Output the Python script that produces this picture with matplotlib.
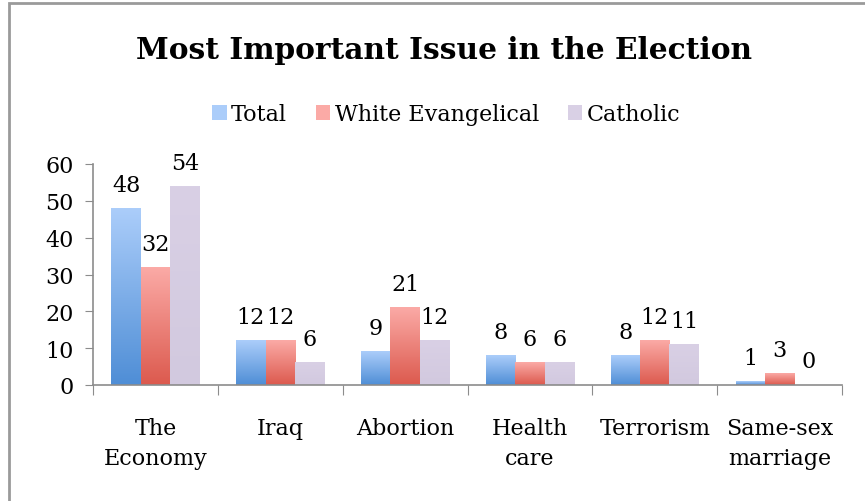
import numpy as np
import matplotlib.pyplot as plt
from matplotlib.colors import LinearSegmentedColormap
from matplotlib.patches import Rectangle

categories = ["The\nEconomy", "Iraq", "Abortion", "Health\ncare", "Terrorism", "Same-sex\nmarriage"]
series_names = ["Total", "White Evangelical", "Catholic"]
total = [48, 12, 9, 8, 8, 1]
evangelical = [32, 12, 21, 6, 12, 3]
catholic = [54, 6, 12, 6, 11, 0]

# top colour, bottom colour for each series
grads = [("#abcdfa", "#4f8ed6"), ("#fbaaa6", "#dc5a4e"), ("#d9d0e5", "#d2c9df")]

plt.rcParams['font.family'] = ['DejaVu Serif']

fig = plt.figure(figsize=(8.65, 5.02), dpi=100)
# outer chart border (only left and top show, the rest is cropped)
fig.patches.append(Rectangle((9 / 865, -0.05), 1.1, 1.05 - 4 / 502,
                             transform=fig.transFigure, fill=False,
                             edgecolor="#9a9a9a", linewidth=2))

ax = fig.add_axes([93 / 865, 1 - 386 / 502, (842 - 93) / 865, (386 - 165) / 502])

bw = 0.235
x = np.arange(len(categories)) + 0.5
data = [total, evangelical, catholic]
for i, (vals, (c_top, c_bot)) in enumerate(zip(data, grads)):
    cmap = LinearSegmentedColormap.from_list("g%d" % i, [c_bot, c_top])
    xs = x + (i - 1) * bw
    bars = ax.bar(xs, vals, width=bw, color=c_top, label=series_names[i], zorder=2)
    for b, v in zip(bars, vals):
        if v > 0:
            grad = np.linspace(0, 1, 100).reshape(-1, 1)
            ax.imshow(grad, extent=(b.get_x(), b.get_x() + bw, 0, v), origin="lower",
                      cmap=cmap, aspect="auto", zorder=2.5)
        ax.text(b.get_x() + bw / 2, v + 3.4, str(v), ha="center", va="bottom", fontsize=16)
ax.set_xlim(0, len(categories))
ax.set_ylim(0, 60)

for s in ["top", "right"]:
    ax.spines[s].set_visible(False)
for s in ["left", "bottom"]:
    ax.spines[s].set_color("#8c8c8c")
    ax.spines[s].set_linewidth(1.2)
ax.set_yticks(range(0, 61, 10))
ax.tick_params(axis="y", labelsize=16, color="#8c8c8c", length=6, pad=8)
ax.set_xticks(range(0, len(categories) + 1))
ax.set_xticklabels([])
ax.tick_params(axis="x", color="#8c8c8c", length=7)
for xi, lab in zip(x, categories):
    ax.text(xi, -8.6, lab, ha="center", va="top", fontsize=16, linespacing=1.5)

fig.text(0.513, 0.9, "Most Important Issue in the Election", ha="center", va="center",
         fontsize=21.3, fontweight="bold")
leg = fig.legend(loc="center", bbox_to_anchor=(0.516, 0.77), ncol=3, frameon=False,
                 fontsize=16, handlelength=0.65, handleheight=0.65, handletextpad=0.2,
                 columnspacing=1.3)

fig.savefig("out.png", dpi=100)
